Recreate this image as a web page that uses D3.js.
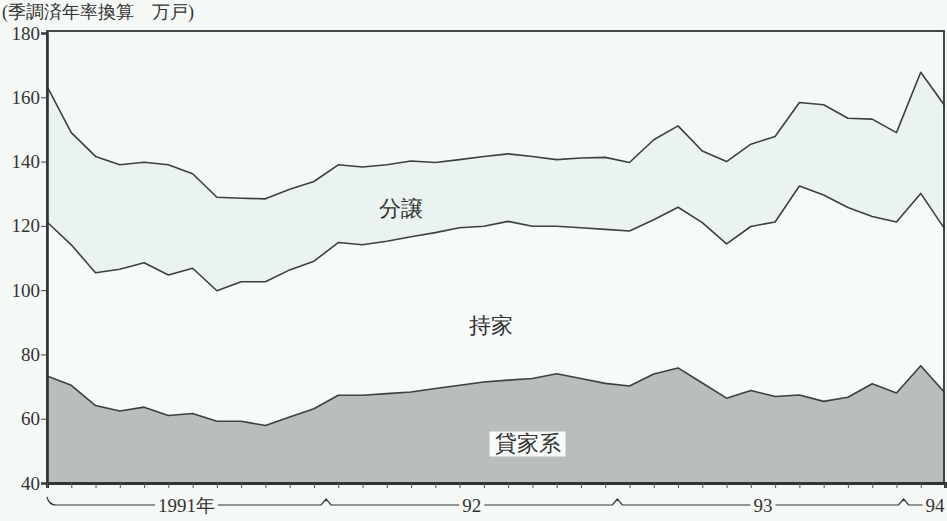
<!DOCTYPE html>
<html>
<head>
<meta charset="utf-8">
<script src="https://cdn.jsdelivr.net/npm/d3@7"></script>
<style>
  body { margin: 0; background: #f4f9f6; }
  .chart text { font-family: "Liberation Serif", serif; fill: #333; }
  .jp { font-family: "Noto Sans CJK JP", sans-serif; }
</style>
</head>
<body>
<svg class="chart"></svg>
<script>
// 1991.1 - 1994.2, monthly (季調済年率換算, 万戸)
var months = d3.range(38);
var years = ["1991年", "92", "93", "94"];
var yTicks = [40, 60, 80, 100, 120, 140, 160, 180];

// 貸家系
var rental = [73.3, 70.4, 64.1, 62.4, 63.6, 61.0, 61.6, 59.2, 59.2, 57.9, 60.5, 63.1,
              67.3, 67.3, 67.8, 68.3, 69.4, 70.4, 71.4, 72.0, 72.5, 74.0, 72.5, 71.0,
              70.2, 73.9, 75.8, 71.1, 66.4, 68.8, 66.9, 67.4, 65.4, 66.7, 70.9, 68.0, 76.5, 68.0];
// 持家
var owned = [47.9, 43.7, 41.3, 44.1, 44.9, 43.7, 45.2, 40.6, 43.4, 44.7, 45.8, 45.9,
             47.5, 46.8, 47.4, 48.3, 48.5, 49.0, 48.5, 49.4, 47.4, 45.9, 46.9, 47.9,
             48.2, 48.0, 50.0, 49.9, 48.0, 51.0, 54.3, 65.0, 64.2, 59.0, 52.0, 53.2, 53.6, 50.9];
// 分譲
var condo = [42.2, 34.9, 36.2, 32.5, 31.3, 34.3, 29.4, 29.1, 26.0, 25.8, 25.1, 24.8,
             24.2, 24.2, 23.8, 23.6, 21.8, 21.2, 21.7, 21.0, 21.7, 20.7, 21.7, 22.4,
             21.3, 24.9, 25.3, 22.3, 25.6, 25.6, 26.6, 26.0, 28.1, 27.8, 30.3, 27.8, 37.7, 38.4];

var seriesNames = ["貸家系", "持家", "分譲"];

var width = 947, height = 521;
var margin = {top: 33, right: 2, bottom: 38, left: 47};

var svg = d3.select(".chart")
    .attr("width", width)
    .attr("height", height);

var table = months.map(function(i) {
    return {i: i, "貸家系": rental[i], "持家": owned[i], "分譲": condo[i]};
});
var stacked = d3.stack().keys(seriesNames)(table);

var x = d3.scaleLinear()
    .domain([0, months.length - 1])
    .range([margin.left, width - margin.right]);

var y = d3.scaleLinear()
    .domain([40, 180])
    .range([height - margin.bottom, margin.top]);

var fills = {"貸家系": "#b9bdbc", "持家": "#f6faf8", "分譲": "#eaf3f0"};

svg.append("clipPath").attr("id", "plot")
    .append("rect")
    .attr("x", x(0)).attr("y", y(180))
    .attr("width", x(37) - x(0)).attr("height", y(40) - y(180));

var area = d3.area()
    .x(function(d) { return x(d.data.i); })
    .y0(function(d) { return y(d[0]); })
    .y1(function(d) { return y(d[1]); });

var line = d3.line()
    .x(function(d) { return x(d.data.i); })
    .y(function(d) { return y(d[1]); });

var plot = svg.append("g").attr("clip-path", "url(#plot)");

plot.selectAll("path.area")
    .data(stacked)
    .enter().append("path")
    .attr("class", "area")
    .attr("d", area)
    .style("fill", function(d) { return fills[d.key]; });

plot.selectAll("path.line")
    .data(stacked)
    .enter().append("path")
    .attr("class", "line")
    .attr("d", line)
    .style("fill", "none")
    .style("stroke", "#3b4141")
    .style("stroke-width", 1.6)
    .style("stroke-linejoin", "round");

// series labels
var labelAt = [
    {name: "分譲", i: 14.6, v: 125.5, box: false},
    {name: "持家", i: 18.3, v: 89, box: false},
    {name: "貸家系", i: 19.8, v: 52.5, box: true}
];
labelAt.forEach(function(l) {
    var t = svg.append("text")
        .attr("class", "jp")
        .attr("x", x(l.i))
        .attr("y", y(l.v))
        .attr("dy", "0.35em")
        .style("text-anchor", "middle")
        .style("font-size", "22px")
        .style("fill", "#333")
        .text(l.name);
    if (l.box) {
        var b = t.node().getBBox();
        svg.insert("rect", function() { return t.node(); })
            .attr("x", b.x - 5).attr("y", b.y + 1)
            .attr("width", b.width + 10).attr("height", b.height)
            .style("fill", "#f7faf8");
    }
});

// frame
svg.append("rect")
    .attr("x", x(0)).attr("y", y(180) - 2)
    .attr("width", x(37) - x(0) - 1).attr("height", y(40) - y(180) + 2)
    .style("fill", "none")
    .style("stroke", "#2f3535")
    .style("stroke-width", 1.8);

// y axis
var yAxis = d3.axisLeft(y).tickValues(yTicks).tickSize(6).tickPadding(1);
var gy = svg.append("g")
    .attr("transform", "translate(" + x(0) + ",0)")
    .call(yAxis);
gy.select(".domain").style("stroke", "#2f3535").style("stroke-width", 2.6);
gy.selectAll(".tick line").style("stroke", "#444");
gy.selectAll("text")
    .style("font-family", "'Liberation Serif', serif")
    .style("font-size", "19px")
    .style("fill", "#333");

// x axis (monthly ticks)
var xAxis = d3.axisBottom(x).tickValues(months).tickSize(5).tickFormat("");
var gx = svg.append("g")
    .attr("transform", "translate(0," + y(40) + ")")
    .call(xAxis);
gx.select(".domain").style("stroke", "#2f3535").style("stroke-width", 3);
gx.selectAll(".tick line").style("stroke", "#555");

// year brackets
var by = y(40) + 22;
var bounds = [0, 11.5, 23.5, 35.5, 37];
var br = d3.path();
br.moveTo(x(0), by - 8);
br.quadraticCurveTo(x(0) + 2, by, x(0) + 9, by);
for (var k = 1; k < bounds.length - 1; k++) {
    var bx = x(bounds[k]) - (k === 3 ? 5 : 0);
    br.lineTo(bx - 5, by);
    br.lineTo(bx, by - 6);
    br.lineTo(bx + 5, by);
}
br.lineTo(x(37) - 20, by);
svg.append("path")
    .attr("d", br.toString())
    .style("fill", "none")
    .style("stroke", "#333")
    .style("stroke-width", 1.2);

years.forEach(function(yr, k) {
    var cx = k < 3 ? (x(bounds[k]) + x(bounds[k + 1])) / 2 : x(37) - 10;
    var t = svg.append("text")
        .attr("x", cx)
        .attr("y", by)
        .attr("dy", "0.35em")
        .style("text-anchor", "middle")
        .style("font-size", "19px")
        .text(yr);
    var b = t.node().getBBox();
    svg.insert("rect", function() { return t.node(); })
        .attr("x", b.x - 3).attr("y", by - 3)
        .attr("width", b.width + 6).attr("height", 6)
        .style("fill", "#f4f9f6");
});

// unit label
svg.append("text")
    .attr("class", "jp")
    .attr("x", 2)
    .attr("y", 18)
    .style("font-size", "18px")
    .style("fill", "#333")
    .text("(季調済年率換算　万戸)");
</script>
</body>
</html>
